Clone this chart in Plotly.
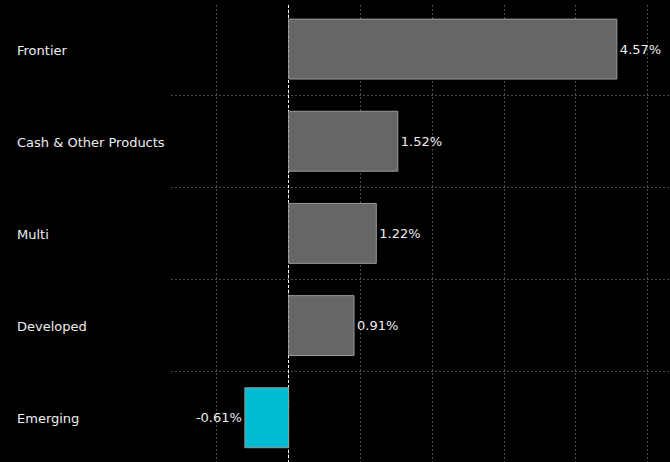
import plotly.graph_objects as go

categories = ["Frontier", "Cash & Other Products", "Multi", "Developed", "Emerging"]
values = [4.57, 1.52, 1.22, 0.91, -0.61]
value_labels = ["4.57%", "1.52%", "1.22%", "0.91%", "-0.61%"]

POS = "#666666"
NEG = "#00BCD0"
colors = [NEG if v < 0 else POS for v in values]
FONT = "DejaVu Sans"

fig = go.Figure()
fig.add_trace(go.Bar(
    x=values, y=categories, orientation="h",
    marker=dict(color=colors, line=dict(color="#9a9a9a", width=1)),
    text=value_labels, textposition="outside", cliponaxis=False,
    constraintext="none",
    textfont=dict(color="#eeeeee", size=13, family=FONT),
    width=0.65, showlegend=False, hoverinfo="skip",
))
fig.add_trace(go.Scatter(x=[0], y=[categories[0]], xaxis="x2", mode="markers",
                         marker=dict(opacity=0), showlegend=False, hoverinfo="skip"))

xr = [-1.639, 5.31]
fig.update_layout(
    width=670, height=462,
    margin=dict(l=171, r=0, t=5, b=0),
    paper_bgcolor="black", plot_bgcolor="black",
    font=dict(family=FONT, color="#eeeeee", size=13),
    xaxis=dict(range=xr, dtick=1, tick0=0, showgrid=True, gridcolor="#4a4a4a",
               griddash="2px,2px", gridwidth=1, zeroline=False,
               showticklabels=False, showline=False, ticks=""),
    xaxis2=dict(range=xr, overlaying="x", tickvals=[0], showgrid=True,
                gridcolor="#ffffff", griddash="3px,2px", gridwidth=1,
                zeroline=False, showticklabels=False, showline=False, ticks=""),
    yaxis=dict(type="category", categoryorder="array", categoryarray=categories,
               range=[4.48, -0.478], tickson="boundaries", showgrid=True,
               gridcolor="#4a4a4a", griddash="2px,2px", gridwidth=1,
               showticklabels=False, ticks="", showline=False, zeroline=False),
)

for c in categories:
    fig.add_annotation(x=0, xref="paper", y=c, yref="y", text=c, showarrow=False,
                       xanchor="left", xshift=-156, yshift=-1,
                       font=dict(family=FONT, size=13, color="#eeeeee"))

fig.write_html("out.html", config={"displayModeBar": False},
               post_script="document.body.style.margin='0';document.body.style.background='black';")
